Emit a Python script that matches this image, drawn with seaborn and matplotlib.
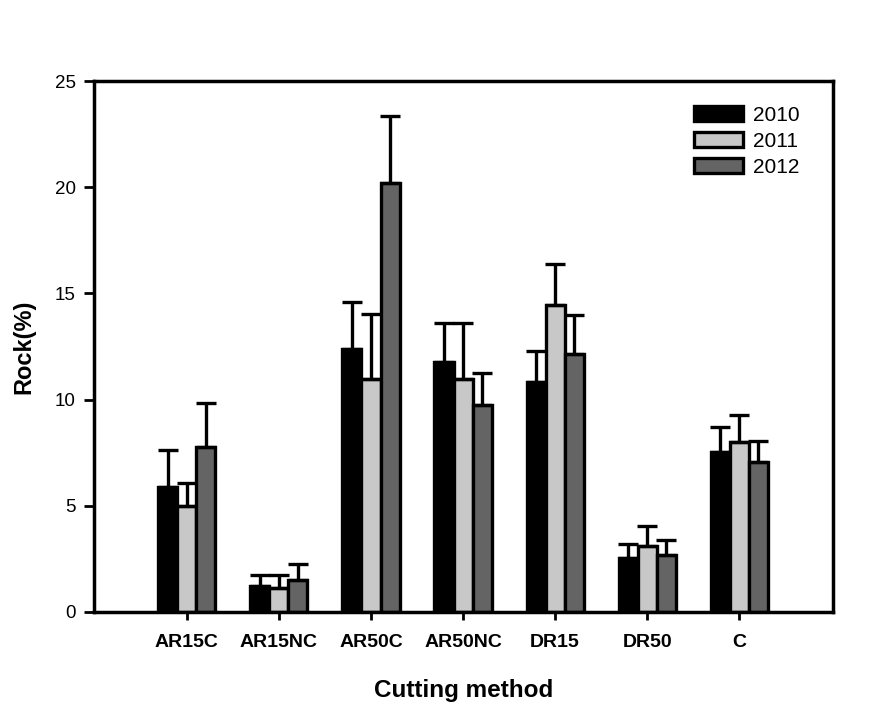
import matplotlib
matplotlib.use("Agg")
import matplotlib.pyplot as plt
import seaborn as sns
import pandas as pd
import numpy as np

categories = ["AR15C", "AR15NC", "AR50C", "AR50NC", "DR15", "DR50", "C"]
years = ["2010", "2011", "2012"]
vals_2010 = [5.9, 1.23, 12.4, 11.75, 10.85, 2.53, 7.55]
vals_2011 = [4.98, 1.14, 10.98, 10.98, 14.45, 3.1, 7.98]
vals_2012 = [7.78, 1.52, 20.2, 9.75, 12.14, 2.68, 7.05]
err_2010 = [1.71, 0.49, 2.2, 1.85, 1.44, 0.67, 1.17]
err_2011 = [1.08, 0.58, 3.04, 2.62, 1.93, 0.97, 1.3]
err_2012 = [2.05, 0.75, 3.17, 1.5, 1.83, 0.69, 1.0]
colors = ["#000000", "#c8c8c8", "#646464"]

sns.set_style("ticks")
plt.rcParams['font.family'] = ['Liberation Sans', 'DejaVu Sans']
plt.rcParams['text.color'] = 'black'
plt.rcParams['axes.labelcolor'] = 'black'
plt.rcParams['xtick.color'] = 'black'
plt.rcParams['ytick.color'] = 'black'

vals = [vals_2010, vals_2011, vals_2012]
errs = [err_2010, err_2011, err_2012]
df = pd.DataFrame({
    "method": np.tile(categories, 3),
    "year": np.repeat(years, len(categories)),
    "rock": np.concatenate(vals),
    "err": np.concatenate(errs),
})

fig = plt.figure(figsize=(8.75, 7.07), dpi=100)
ax = fig.add_axes([0.1074, 0.1344, 0.8446, 0.751])

sns.barplot(data=df, x="method", y="rock", hue="year", order=categories,
            hue_order=years, palette=colors, errorbar=None, width=0.62,
            edgecolor="black", linewidth=2.4, saturation=1, ax=ax, legend=True)

# error bars (upper only) at the centre of each bar
for i, yr in enumerate(years):
    sub = df[df.year == yr]
    container = ax.containers[i]
    xs = [b.get_x() + b.get_width() / 2 for b in container]
    ax.errorbar(xs, sub["rock"].values,
                yerr=[np.zeros(len(sub)), sub["err"].values],
                fmt="none", ecolor="black", elinewidth=2.4, capsize=7,
                capthick=2.4, zorder=1)

ax.set_xlim(-1.01, 7.02)
ax.set_ylim(0, 25)
ax.set_yticks([0, 5, 10, 15, 20, 25])
for s in ax.spines.values():
    s.set_visible(True)
    s.set_linewidth(2.5)
    s.set_color("black")
ax.tick_params(axis="y", direction="out", length=7, width=2, labelsize=13.5, pad=6)
ax.tick_params(axis="x", direction="out", length=6, width=2, labelsize=14, pad=10)
for lab in ax.get_xticklabels():
    lab.set_fontweight("bold")

ax.set_xlabel("Cutting method", fontsize=17.5, fontweight="bold", labelpad=20)
ax.set_ylabel("Rock(%)", fontsize=17, fontweight="bold", labelpad=14)

leg = ax.legend(loc="upper left", bbox_to_anchor=(0.8005, 0.969), frameon=False,
                fontsize=15, handlelength=2.35, handleheight=0.72,
                labelspacing=0.33, handletextpad=0.5, borderaxespad=0)
for h in leg.legend_handles:
    h.set_edgecolor("black")
    h.set_linewidth(2.4)

fig.savefig("out.png", dpi=100)
